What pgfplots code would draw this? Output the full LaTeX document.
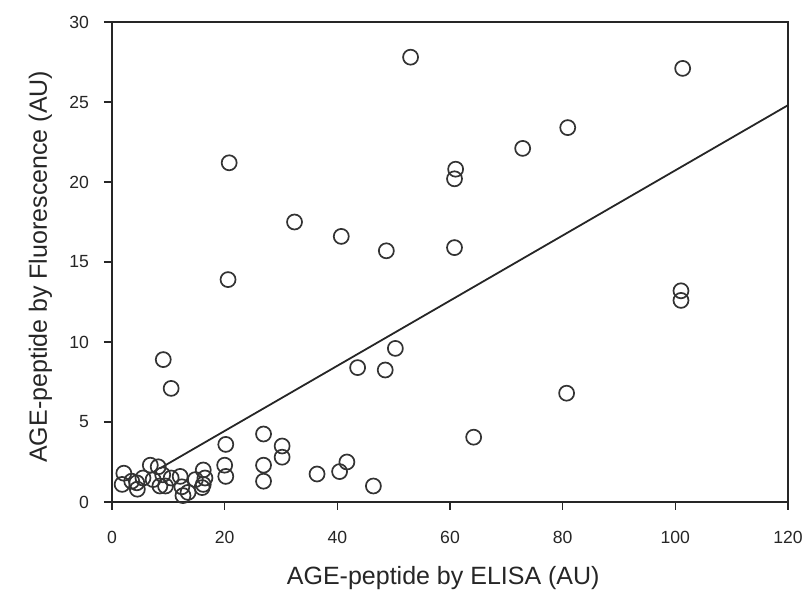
\documentclass[border=0pt]{standalone}
\usepackage{pgfplots}
\pgfplotsset{compat=1.18}
\usepackage{fontspec}
\setmainfont{Liberation Sans}
\begin{document}
\begin{tikzpicture}
\useasboundingbox (-56pt,-53pt) rectangle (347.5pt,251pt);
\begin{axis}[
  scale only axis,
  width=338pt, height=240pt,
  at={(0,0)}, anchor=south west,
  xmin=0, xmax=120, ymin=0, ymax=30,
  xtick={0,20,...,120}, ytick={0,5,...,30},
  tick align=outside,
  xtick pos=bottom, ytick pos=left,
  major tick length=4pt,
  axis line style={line width=0.75pt, black!85},
  every tick/.style={line width=0.7pt, black!85},
  tick label style={font=\fontsize{8.8}{10}\selectfont, text=black!85},
  /pgf/number format/assume math mode=true,
  xticklabel style={yshift=-7pt},
  yticklabel style={xshift=-4pt},
  xlabel={AGE-peptide by ELISA (AU)},
  ylabel={AGE-peptide by Fluorescence (AU)},
  label style={font=\fontsize{12.5}{14}\selectfont, text=black!85},
  xlabel style={at={(axis description cs:0.49,-0.158)}, anchor=center},
  ylabel style={at={(axis description cs:-0.106,0.49)}, anchor=center},
  clip=false,
]
\addplot[only marks, mark=o, mark size=3.75pt, mark options={line width=0.85pt, draw=black!80}] coordinates {
(53.0,27.8) (101.3,27.1) (80.9,23.4) (72.9,22.1) (61.0,20.8) (60.8,20.2)
(20.8,21.2) (32.4,17.5) (40.7,16.6) (48.7,15.7) (60.8,15.9) (20.6,13.9)
(101.0,13.2) (101.0,12.6) (9.1,8.9) (10.5,7.1) (50.3,9.6) (43.6,8.4) (48.5,8.25)
(80.7,6.8) (64.2,4.05)
(26.9,4.25) (20.2,3.6) (30.2,3.5) (30.2,2.8) (20.0,2.3) (20.2,1.6)
(26.9,2.3) (26.9,1.3) (36.4,1.75) (40.4,1.9) (41.7,2.5) (46.4,1.0)
(1.8,1.1) (2.1,1.8) (3.5,1.3) (4.4,1.2) (4.5,0.8) (5.5,1.5)
(6.8,2.3) (8.2,2.2) (7.3,1.4) (8.5,1.0) (9.0,1.7) (9.5,1.0) (10.5,1.5)
(12.1,1.6) (12.4,0.95) (12.6,0.4) (13.5,0.6) (14.8,1.4)
(16.2,2.0) (16.5,1.5) (16.0,0.9) (16.2,1.1)
};
\addplot[line width=0.9pt, black!85] coordinates {(8.5,2.1) (120,24.8)};
\end{axis}
\end{tikzpicture}
\end{document}
